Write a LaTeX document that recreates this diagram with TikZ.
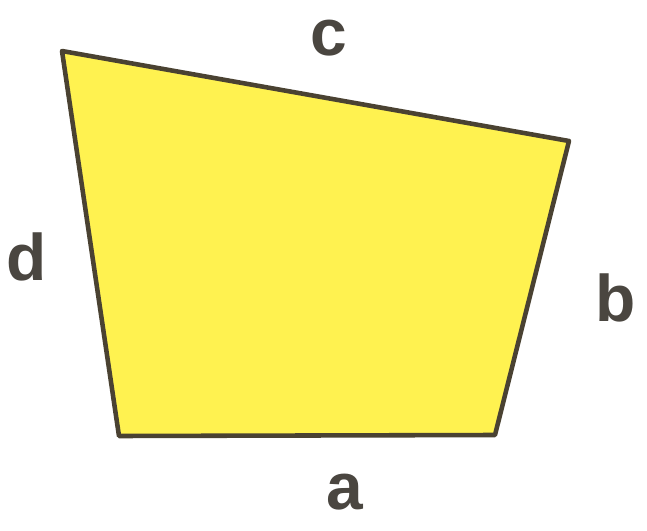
\documentclass[tikz,border=0pt]{standalone}
\usepackage{fontspec}
\setmainfont{Liberation Sans}
\usetikzlibrary{positioning}
\definecolor{QuadYellow}{HTML}{FFF250}
\definecolor{QuadEdge}{HTML}{4A4232}
\definecolor{QuadText}{HTML}{4A4640}
\tikzset{
    % Shape and label styles
    quad/.style={
        draw=QuadEdge,
        fill=QuadYellow,
        line width=2.6pt,
        line join=round
    },
    sidelabel/.style={
        inner sep=0pt,
        text=QuadText,
        font=\fontsize{37.5}{40}\selectfont\bfseries
    }
}
\begin{document}
\begin{tikzpicture}[x=0.02cm, y=-0.02cm]
    \useasboundingbox (0,0) rectangle (647,531);

    \coordinate (tl) at (62,51);
    \coordinate (tr) at (569,141);
    \coordinate (br) at (495,435);
    \coordinate (bl) at (119,436);

    \draw[quad] (bl) -- (br) -- (tr) -- (tl) -- cycle;

    \node[sidelabel] (la) at (345,492) {a};
    \node[sidelabel] (lb) at (616,298) {b};
    \node[sidelabel] (lc) at (329,38) {c};
    \node[sidelabel] (ld) at (27,257) {d};
\end{tikzpicture}
\end{document}
